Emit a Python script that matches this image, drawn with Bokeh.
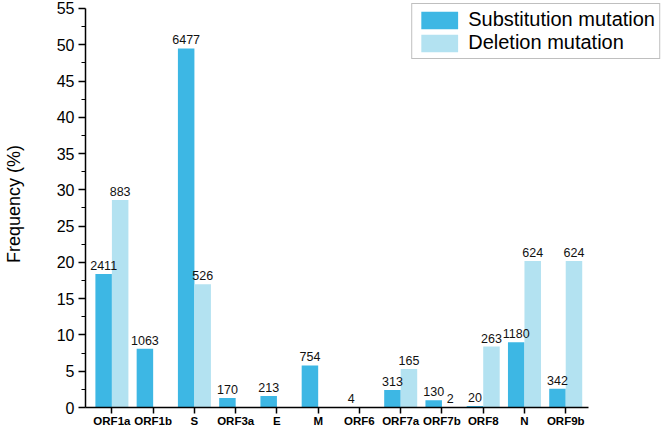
from bokeh.plotting import figure
from bokeh.models import ColumnDataSource, FixedTicker, LabelSet, Legend, LegendItem
from bokeh.transform import dodge
from bokeh.core.properties import value
from bokeh.embed import file_html
from bokeh.resources import INLINE

genes = ["ORF1a", "ORF1b", "S", "ORF3a", "E", "M", "ORF6", "ORF7a", "ORF7b", "ORF8", "N", "ORF9b"]
subst_freq = [18.4, 8.1, 49.5, 1.3, 1.6, 5.8, 0.03, 2.4, 1.0, 0.2, 9.0, 2.6]
subst_count = ["2411", "1063", "6477", "170", "213", "754", "4", "313", "130", "20", "1180", "342"]
del_freq = [28.6, 0.0, 17.0, 0.0, 0.0, 0.0, 0.0, 5.3, 0.03, 8.4, 20.2, 20.2]
del_count = ["883", "", "526", "", "", "", "", "165", "2", "263", "624", "624"]
y_ticks = [0, 5, 10, 15, 20, 25, 30, 35, 40, 45, 50, 55]

SUB_COLOR = "#3DB7E4"
DEL_COLOR = "#B3E2F1"
FONT = "Liberation Sans"

idx = list(range(len(genes)))
src = ColumnDataSource(dict(x=idx, sub=subst_freq, subl=subst_count, dl=del_freq, dll=del_count))

p = figure(width=663, height=429, output_backend="svg", toolbar_location=None,
           x_range=(-0.64, 13.37), y_range=(0, 56.1),
           min_border_left=83, min_border_right=0, min_border_top=0, min_border_bottom=19)
p.outline_line_color = None
p.xgrid.visible = False
p.ygrid.visible = False
p.background_fill_color = "white"

r1 = p.vbar(x=dodge("x", -0.2), top="sub", width=0.4, source=src,
            fill_color=SUB_COLOR, line_color=None)
r2 = p.vbar(x=dodge("x", 0.2), top="dl", width=0.4, source=src,
            fill_color=DEL_COLOR, line_color=None)

for col, lab, off in [("sub", "subl", -0.2), ("dl", "dll", 0.2)]:
    ls = LabelSet(x=dodge("x", off), y=col, text=lab, source=src, text_align="center",
                  text_baseline="alphabetic", y_offset=4, text_font=value(FONT),
                  text_font_size=value("12.5px"), text_color="#111111")
    p.add_layout(ls)

# x axis
xa = p.xaxis[0]
xa.ticker = FixedTicker(ticks=idx)
xa.major_label_overrides = {i: g for i, g in enumerate(genes)}
xa.bounds = (-0.64, 11.55)
xa.axis_line_width = 1.5
xa.major_tick_line_width = 1.5
xa.major_tick_in = 0
xa.major_tick_out = 6
xa.minor_tick_line_color = None
xa.major_label_standoff = 1
xa.major_label_text_font = FONT
xa.major_label_text_font_style = "bold"
xa.major_label_text_font_size = "11.5px"
xa.major_label_text_color = "black"

# y axis
ya = p.yaxis[0]
ya.ticker = FixedTicker(ticks=y_ticks, minor_ticks=[t + 2.5 for t in y_ticks[:-1]])
ya.bounds = (0, 55)
ya.axis_line_width = 1.5
ya.major_tick_line_width = 1.5
ya.minor_tick_line_width = 1.2
ya.major_tick_in = 0
ya.major_tick_out = 7
ya.minor_tick_in = 0
ya.minor_tick_out = 4
ya.major_label_standoff = 4
ya.major_label_text_font = FONT
ya.major_label_text_font_size = "16px"
ya.major_label_text_color = "black"
ya.axis_label = "Frequency (%)"
ya.axis_label_text_font = FONT
ya.axis_label_text_font_size = "18px"
ya.axis_label_text_font_style = "normal"
ya.axis_label_text_color = "black"
ya.axis_label_standoff = 30

legend = Legend(items=[LegendItem(label="Substitution mutation", renderers=[r1]),
                       LegendItem(label="Deletion mutation", renderers=[r2])],
                location="top_right", margin=3, padding=4, spacing=0,
                glyph_width=46, glyph_height=22, label_standoff=6,
                label_text_font=FONT, label_text_font_size="20px",
                label_text_color="black", label_height=22,
                border_line_color="#808080", border_line_width=1.2,
                background_fill_color="white", background_fill_alpha=1)
p.add_layout(legend)

open("out.html", "w").write(file_html(p, INLINE))
